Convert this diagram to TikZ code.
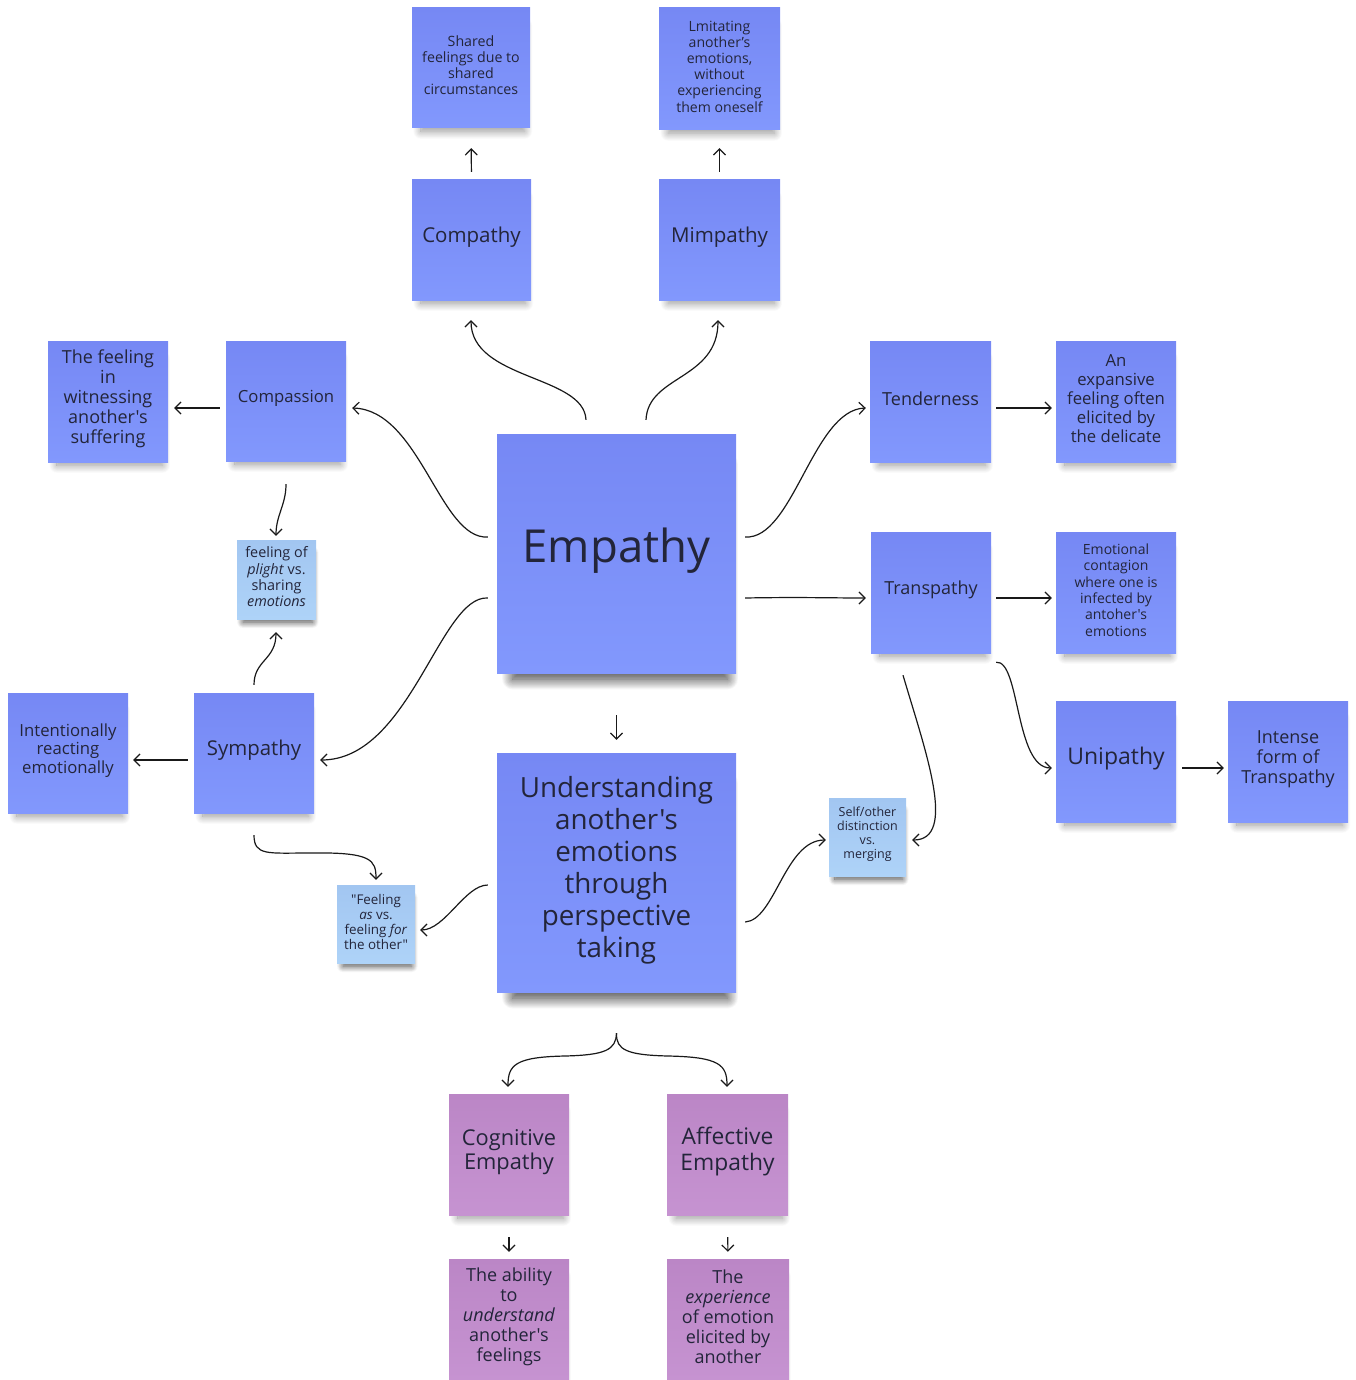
\documentclass[tikz,border=0pt]{standalone}
\usepackage{fontspec}
\setmainfont{Open Sans}[Ligatures=TeXOff]
\usetikzlibrary{arrows.meta,calc,shadows.blur}
\definecolor{nblueT}{HTML}{7688F4}
\definecolor{nblueB}{HTML}{8298FD}
\definecolor{nlightT}{HTML}{A2C6F1}
\definecolor{nlightB}{HTML}{AED3F8}
\definecolor{npurpleT}{HTML}{BB86C6}
\definecolor{npurpleB}{HTML}{C693D1}
\definecolor{ntext}{HTML}{23253A}
\newcommand\mknote[5]{%
  \node[#1] (#2) at (#3) {};
  \node[txt,#4] (#2t) at ($(#2)+(0,-2.5)$) {#5};}
\begin{document}
\begin{tikzpicture}[x=1pt,y=-1pt,
  note/.style={rectangle, top color=nblueT, bottom color=nblueB, draw=none, inner sep=0pt,
    blur shadow={shadow xshift=2pt, shadow yshift=-12pt, shadow scale=0.88, shadow blur radius=9pt, shadow blur steps=20, shadow opacity=42}},
  smallnote/.style={note, blur shadow={shadow xshift=1.5pt, shadow yshift=-9pt, shadow scale=0.88, shadow blur radius=7pt, shadow blur steps=16, shadow opacity=40}},
  bignote/.style={note, blur shadow={shadow xshift=4pt, shadow yshift=-20pt, shadow scale=0.9, shadow blur radius=12pt, shadow blur steps=24, shadow opacity=45}},
  light/.style={top color=nlightT, bottom color=nlightB},
  purple/.style={top color=npurpleT, bottom color=npurpleB},
  txt/.style={align=center, text=ntext, inner sep=0pt},
  sz/.style 2 args={minimum width=#1pt, minimum height=#2pt},
  fs/.style 2 args={font=\fontsize{#1pt}{#2pt}\selectfont},
  arr/.style={line width=1.2pt, draw=black!90, -{Straight Barb[length=6pt,width=12pt]}}
]
\useasboundingbox (0,0) rectangle (1355,1380);

% nodes
\mknote{note, sz={118}{120}}{shared}{471,68}{fs={14.2}{16}}{Shared\\feelings due to\\shared\\circumstances}
\mknote{note, sz={121}{122}}{lmit}{719.5,69}{fs={14.1}{16.2}}{Lmitating\\another’s\\emotions,\\without\\experiencing\\them oneself}
\mknote{note, sz={119}{120}}{compathy}{471.5,240}{fs={20.5}{24}}{Compathy}
\mknote{note, sz={121}{120}}{mimpathy}{719.5,240}{fs={20.5}{24}}{Mimpathy}
\mknote{note, sz={120}{121}}{feelwit}{108,401.5}{fs={18}{20}}{The feeling\\in\\witnessing\\another's\\suffering}
\mknote{note, sz={120}{120}}{compassion}{286,401}{fs={16.7}{19}}{Compassion}
\mknote{bignote, sz={239}{239}}{empathy}{616.5,553.5}{fs={45.5}{50}}{Empathy}
\mknote{note, sz={121}{121}}{tender}{930.5,401.5}{fs={18}{20}}{Tenderness}
\mknote{note, sz={120}{121}}{expansive}{1116,401.5}{fs={16.7}{19}}{An\\expansive\\feeling often\\elicited by\\the delicate}
\mknote{smallnote, light, sz={79}{79}}{plight}{276.5,579.5}{fs={14.4}{16.3}}{feeling of\\\emph{plight} vs.\\sharing\\\emph{emotions}}
\mknote{note, sz={120}{121}}{transpathy}{931,592.5}{fs={18}{20}}{Transpathy}
\mknote{note, sz={120}{121}}{contagion}{1116,592.5}{fs={14}{16.3}}{Emotional\\contagion\\where one is\\infected by\\antoher's\\emotions}
\mknote{note, sz={120}{120}}{intent}{68,753}{fs={16.7}{18.5}}{Intentionally\\reacting\\emotionally}
\mknote{note, sz={120}{120}}{sympathy}{254,753}{fs={20.4}{24}}{Sympathy}
\mknote{note, sz={120}{121}}{unipathy}{1116,761.5}{fs={23}{26}}{Unipathy}
\mknote{note, sz={120}{121}}{intense}{1288,761.5}{fs={18}{20}}{Intense\\form of\\Transpathy}
\mknote{bignote, sz={239}{239}}{underst}{616.5,872.5}{fs={27.8}{32}}{Understanding\\another's\\emotions\\through\\perspective\\taking}
\mknote{smallnote, light, sz={77}{78}}{selfother}{867.5,837}{fs={12.5}{14}}{Self/other\\distinction\\vs.\\merging}
\mknote{smallnote, light, sz={78}{78}}{feelas}{376,924}{fs={13.4}{15}}{"Feeling\\\emph{as} vs.\\feeling \emph{for}\\the other"}
\mknote{note, purple, sz={120}{121}}{cognitive}{509,1154.5}{fs={21.8}{24.5}}{Cognitive\\Empathy}
\mknote{note, purple, sz={121}{121}}{affective}{727.5,1154.5}{fs={22.8}{26}}{Affective\\Empathy}
\mknote{note, purple, sz={120}{121}}{ability}{509,1319.5}{fs={18}{20}}{The ability\\to\\\emph{understand}\\another's\\feelings}
\mknote{note, purple, sz={122}{121}}{experience}{728,1319.5}{fs={18}{20}}{The\\\emph{experience}\\of emotion\\elicited by\\another}

% connectors
\draw[arr, shorten <=8pt, shorten >=20pt] (compathy.north) -- (shared.south);
\draw[arr, shorten <=8pt, shorten >=18pt] (mimpathy.north) -- (lmit.south);
\draw[arr] ($(empathy.north)+(-30.5,-14)$) .. controls (584,375) and (471,380) .. ($(compathy.south)+(-0.5,20)$);
\draw[arr] ($(empathy.north)+(29.5,-14)$) .. controls (648,375) and (718,380) .. ($(mimpathy.south)+(-1.5,20)$);
\draw[arr] ($(empathy.west)+(-9,-16.5)$) .. controls (440,540) and (420,410) .. ($(compassion.east)+(6,7)$);
\draw[arr] ($(compassion.west)+(-6,7)$) -- ($(feelwit.east)+(6,6.5)$);
\draw[arr] ($(compassion.south)+(0,23)$) .. controls (286,505) and (276,515) .. ($(plight.north)+(-0.5,-4)$);
\draw[arr] ($(sympathy.north)+(0,-8)$) .. controls (254,660) and (276,660) .. ($(plight.south)+(-0.5,13)$);
\draw[arr] ($(empathy.west)+(-9,44.5)$) .. controls (440,595) and (410,760) .. ($(sympathy.east)+(6,7)$);
\draw[arr] ($(sympathy.west)+(-6,7)$) -- ($(intent.east)+(5,7)$);
\draw[arr] ($(sympathy.south)+(0,22)$) .. controls (254,856) and (268,853) .. (310,853) .. controls (372,852) and (376,860) .. ($(feelas.north)+(0,-5)$);
\draw[arr] ($(underst.west)+(-9,12.5)$) .. controls (465,885) and (445,930) .. ($(feelas.east)+(5,6)$);
\draw[arr] ($(empathy.east)+(9,-16.5)$) .. controls (793,540) and (813,410) .. ($(tender.west)+(-4,6.5)$);
\draw[arr] ($(empathy.east)+(9,44.5)$) .. controls (800,597) and (830,598) .. ($(transpathy.west)+(-5,5.5)$);
\draw[arr] ($(tender.east)+(5,6.5)$) -- ($(expansive.west)+(-4,6.5)$);
\draw[arr] ($(transpathy.east)+(5,5.5)$) -- ($(contagion.west)+(-4,5.5)$);
\draw[arr] ($(transpathy.south east)+(5,9)$) .. controls (1020,660) and (1015,768) .. ($(unipathy.west)+(-4,6.5)$);
\draw[arr] ($(unipathy.east)+(6,6.5)$) -- ($(intense.west)+(-4,6.5)$);
\draw[arr] ($(transpathy.south)+(-28,22)$) .. controls (925,750) and (958,840) .. ($(selfother.east)+(6,3)$);
\draw[arr] ($(underst.east)+(9,49.5)$) .. controls (775,920) and (785,840) .. ($(selfother.west)+(-3,3)$);
\draw[arr, shorten <=42pt, shorten >=13pt] (empathy.south) -- (underst.north);
\coordinate (brace) at ($(underst.south)+(0,41)$);
\draw[arr] (brace) .. controls (616,1050) and (605,1055) .. (565,1056) .. controls (515,1057) and (508,1065) .. ($(cognitive.north)+(-1,-7)$);
\draw[arr] (brace) .. controls (616,1050) and (627,1055) .. (668,1056) .. controls (720,1057) and (727,1065) .. ($(affective.north)+(-0.5,-7)$);
\draw[arr, shorten <=22pt, shorten >=7pt] (cognitive.south) -- (ability.north);
\draw[arr, shorten <=22pt, shorten >=7pt] (affective.south) -- (experience.north);
\end{tikzpicture}
\end{document}
